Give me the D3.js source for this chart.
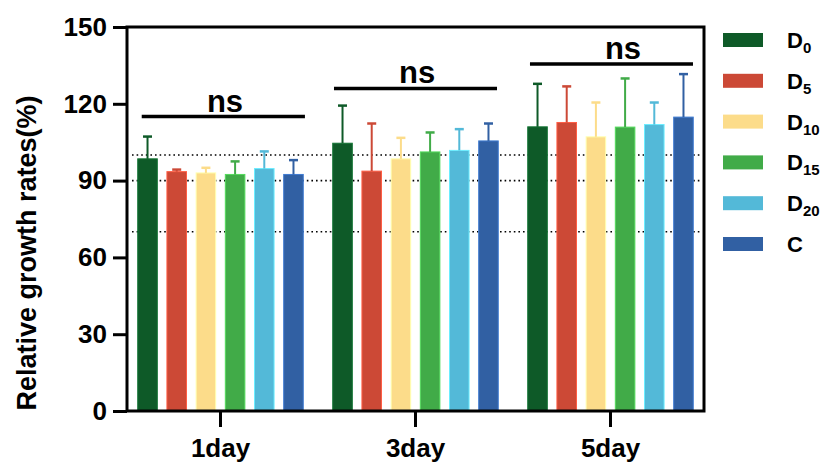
<!DOCTYPE html>
<meta charset="utf-8">
<head>
<style>
  body { margin: 0; background: #fff; }
  svg text { font-family: "Liberation Sans", Arial, sans-serif; font-weight: bold; fill: #000; }
  .axis text { font-size: 26px; }
  .xaxis text { font-size: 26px; }
  .axis line { stroke: #000; stroke-width: 3; }
  .ns { font-size: 31px; text-anchor: middle; }
  .legend text { font-size: 22px; }
</style>
<script src="https://d3js.org/d3.v7.min.js"></script>
</head>
<body>
<svg width="830" height="462"></svg>
<script>
// data
var days = ["1day", "3day", "5day"];
var series = ["D0", "D5", "D10", "D15", "D20", "C"];
var subs = ["0", "5", "10", "15", "20", ""];
var colors = ["#0e5a28", "#cc4936", "#fcdc8a", "#41ab48", "#53b9d8", "#3160a3"];

var meanD0  = [98.5, 104.6, 111.0];
var meanD5  = [93.5, 93.7, 112.7];
var meanD10 = [93.0, 98.5, 107.1];
var meanD15 = [92.4, 101.2, 110.9];
var meanD20 = [94.7, 101.8, 111.9];
var meanC   = [92.4, 105.5, 114.8];

var sdD0  = [8.7, 14.7, 16.8];
var sdD5  = [0.8, 18.6, 14.1];
var sdD10 = [2.0, 8.2, 13.4];
var sdD15 = [5.1, 7.6, 19.0];
var sdD20 = [6.7, 8.3, 8.6];
var sdC   = [5.6, 6.8, 16.8];

var yTicks = [0, 30, 60, 90, 120, 150];
var refLines = [100, 90, 70];

// significance bars (x in group units, 0 = first group centre)
var sigStart = [-0.404, 0.582, 1.587];
var sigEnd   = [0.433, 1.418, 2.423];
var sigLevel = [115, 126, 135.5];
var sigText  = [0.023, 1.008, 2.064];

var means = [meanD0, meanD5, meanD10, meanD15, meanD20, meanC];
var sds = [sdD0, sdD5, sdD10, sdD15, sdD20, sdC];

var svg = d3.select("svg");
var pLeft = 127, pRight = 704, pTop = 27, pBottom = 411;

var y = d3.scaleLinear().domain([0, 150]).range([pBottom, pTop]);
var x = d3.scaleBand().domain(days).range([123, 708]);
var xInner = d3.scaleBand().domain(series).range([0, x.bandwidth()])
    .paddingInner(0.33).paddingOuter(0.505);
var xUnit = d3.scaleLinear().domain([0, 2])
    .range([x(days[0]) + x.bandwidth() / 2, x(days[2]) + x.bandwidth() / 2]);

var rows = [];
series.forEach(function(s, i) {
  days.forEach(function(d, j) {
    rows.push({s: s, day: d, v: means[i][j], sd: sds[i][j], c: colors[i]});
  });
});

// reference lines
svg.append("g").selectAll("line").data(refLines).enter().append("line")
    .attr("x1", pLeft + 5).attr("x2", pRight - 2)
    .attr("y1", function(d) { return y(d); })
    .attr("y2", function(d) { return y(d); })
    .attr("stroke", "#000").attr("stroke-width", 1.6)
    .attr("stroke-dasharray", "1.6 3");

// bars
var bars = svg.append("g");
bars.selectAll("rect").data(rows).enter().append("rect")
    .attr("x", function(d) { return x(d.day) + xInner(d.s); })
    .attr("width", xInner.bandwidth())
    .attr("y", function(d) { return y(d.v); })
    .attr("height", function(d) { return y(0) - y(d.v); })
    .attr("fill", function(d) { return d.c; })
    .attr("stroke", function(d) { return d3.color(d.c).brighter(0.7); })
    .attr("stroke-width", 1);

// error bars (upper)
function cx(d) { return x(d.day) + xInner(d.s) + xInner.bandwidth() / 2; }
var eb = svg.append("g");
eb.selectAll("line.v").data(rows).enter().append("line")
    .attr("class", "v")
    .attr("x1", cx).attr("x2", cx)
    .attr("y1", function(d) { return y(d.v); })
    .attr("y2", function(d) { return y(d.v + d.sd); })
    .attr("stroke", function(d) { return d.c; })
    .attr("stroke-width", 2);
eb.selectAll("line.cap").data(rows).enter().append("line")
    .attr("class", "cap")
    .attr("x1", function(d) { return cx(d) - 4.5; })
    .attr("x2", function(d) { return cx(d) + 4.5; })
    .attr("y1", function(d) { return y(d.v + d.sd); })
    .attr("y2", function(d) { return y(d.v + d.sd); })
    .attr("stroke", function(d) { return d.c; })
    .attr("stroke-width", 2.5);

// axes
var yAxis = svg.append("g").attr("class", "axis")
    .attr("transform", "translate(" + pLeft + ",0)")
    .call(d3.axisLeft(y).tickValues(yTicks).tickSize(14).tickPadding(6));
yAxis.select(".domain").remove();

var xAxis = svg.append("g").attr("class", "axis xaxis")
    .attr("transform", "translate(0," + pBottom + ")")
    .call(d3.axisBottom(x).tickSize(16).tickPadding(12));
xAxis.select(".domain").remove();

// frame
svg.append("rect")
    .attr("x", pLeft).attr("y", pTop)
    .attr("width", pRight - pLeft).attr("height", pBottom - pTop)
    .attr("fill", "none").attr("stroke", "#000").attr("stroke-width", 3);

// y title
svg.append("text")
    .attr("transform", "rotate(-90)")
    .attr("x", -253).attr("y", 36)
    .attr("text-anchor", "middle")
    .style("font-size", "27px")
    .text("Relative growth rates(%)");

// significance
var sig = svg.append("g");
sig.selectAll("line").data(sigLevel).enter().append("line")
    .attr("x1", function(d, i) { return xUnit(sigStart[i]); })
    .attr("x2", function(d, i) { return xUnit(sigEnd[i]); })
    .attr("y1", function(d) { return y(d); })
    .attr("y2", function(d) { return y(d); })
    .attr("stroke", "#000").attr("stroke-width", 3.5);
sig.selectAll("text").data(sigLevel).enter().append("text")
    .attr("class", "ns")
    .attr("x", function(d, i) { return xUnit(sigText[i]); })
    .attr("y", function(d) { return y(d) - 5; })
    .text("ns");

// legend
var ly = d3.scaleLinear().domain([0, 5]).range([40, 244]);
var lg = svg.append("g").attr("class", "legend");
var item = lg.selectAll("g").data(series).enter().append("g")
    .attr("transform", function(d, i) { return "translate(0," + ly(i) + ")"; });
item.append("rect")
    .attr("x", 723).attr("y", -7).attr("width", 40).attr("height", 14)
    .attr("fill", function(d, i) { return colors[i]; });
var lt = item.append("text").attr("x", 787).attr("y", 8);
lt.append("tspan").text(function(d) { return d.charAt(0); });
lt.append("tspan").attr("dy", 5).style("font-size", "15px")
    .text(function(d, i) { return subs[i]; });
</script>
</body>
